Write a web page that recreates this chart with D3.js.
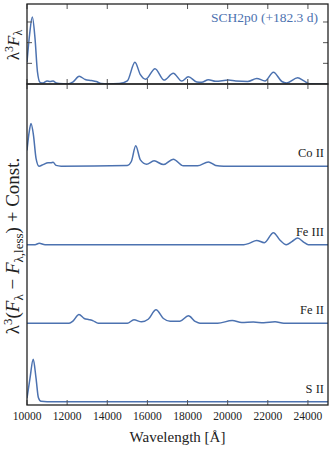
<!DOCTYPE html>
<html lang="en">
<head>
<meta charset="UTF-8"/>
<title>SCH2p0 spectrum decomposition</title>
<script src="https://d3js.org/d3.v7.min.js"></script>
<style>
	body { margin: 0; background: #fff; }
</style>
</head>
<body>
<script>
	// ***Data***
	var xTicks = [10000, 12000, 14000, 16000, 18000, 20000, 22000, 24000];
	var topTicks = [1, 2, 3];
	var title = "SCH2p0 (+182.3 d)";

	// total spectrum, lambda^3 F_lambda  [wavelength, value]
	var total = [
		[10000,1.06],[10130,2.4],[10265,3.24],[10400,2.2],[10520,0.6],[10650,0.08],[10800,0.05],
		[11000,0.15],[11150,0.12],[11300,0.15],[11450,0.05],[11600,0.02],[12000,0.0],[12300,0.1],
		[12600,0.37],[12900,0.22],[13200,0.17],[13450,0.12],[13700,0.02],[14000,0],[14600,0.02],
		[15000,0.15],[15380,1.05],[15650,0.45],[15915,0.23],[16380,0.74],[16830,0.19],[17290,0.52],
		[17710,0.14],[18040,0.35],[18460,0.1],[18700,0.08],[19040,0.21],[19400,0.13],[20050,0.19],
		[20400,0.14],[21000,0.12],[21450,0.27],[21860,0.15],[22280,0.57],[22700,0.12],[22940,0.05],
		[23490,0.3],[23800,0.15],[24100,0.01],[25000,0]
	];

	// species contributions (relative units)
	var species = ["Co II", "Fe III", "Fe II", "S II"];
	var offsets = [3, 2, 1, 0];
	var coII = [
		[10000,0.2],[10100,0.42],[10200,0.544],[10320,0.4],[10450,0.1],[10600,0.0],[10800,0.02],
		[11050,0.045],[11200,0.045],[11300,0.05],[11450,0.01],[11700,0],[15000,0.01],[15200,0.06],
		[15420,0.26],[15650,0.08],[15960,0.025],[16330,0.068],[16800,0.02],[17290,0.09],[17790,0.005],
		[18500,0.005],[19040,0.055],[19400,0.01],[19800,0],[25000,0]
	];
	var feIII = [
		[10000,0],[10400,0],[10610,0.017],[10900,0],[20800,0],[21100,0.02],[21440,0.055],[21830,0.025],
		[22280,0.153],[22600,0.06],[22920,0],[23200,0.04],[23490,0.084],[23800,0.03],[24020,0],[25000,0]
	];
	var feII = [
		[10000,0],[12100,0],[12300,0.03],[12590,0.111],[12850,0.06],[13100,0.045],[13300,0.03],[13550,0],
		[15000,0],[15330,0.043],[15710,0.017],[16040,0.05],[16430,0.171],[16800,0.06],[17130,0.025],
		[17620,0.025],[18040,0.094],[18400,0.02],[18620,0],[19500,0],[20230,0.034],[20700,0.01],
		[21280,0.015],[21800,0.005],[22360,0.017],[22800,0],[25000,0]
	];
	var sII = [
		[10000,0.045],[10150,0.3],[10310,0.54],[10450,0.3],[10570,0.05],[10700,0.005],[11000,0],[25000,0]
	];
	var seriesList = [coII, feIII, feII, sII];
	// ***Data***

	var w = 331, h = 450;
	var left = 27, right = 328;
	var topY0 = 4, split = 84, botY1 = 405;
	var blue = "#4C72B0";
	var tickLen = 5;
	var serif = "'Liberation Serif', 'DejaVu Serif', serif";

	var xScale = d3.scaleLinear().domain([10000, 25000]).range([left, right]);
	var yTop = d3.scaleLinear().domain([0, 3.87]).range([split, topY0]);
	var yBot = d3.scaleLinear().domain([-0.042, 4.047]).range([botY1, split]);

	var svg = d3.select("body").append("svg")
		.attr("width", w).attr("height", h)
		.attr("font-family", serif);

	// clip paths
	svg.append("clipPath").attr("id", "clipTop").append("rect")
		.attr("x", left).attr("y", topY0).attr("width", right - left).attr("height", split - topY0);
	svg.append("clipPath").attr("id", "clipBot").append("rect")
		.attr("x", left).attr("y", split).attr("width", right - left).attr("height", botY1 - split);

	// top panel line
	var lineTop = d3.line()
		.x(function(d) { return xScale(d[0]); })
		.y(function(d) { return yTop(d[1]); })
		.curve(d3.curveMonotoneX);

	svg.append("path")
		.datum(total)
		.attr("clip-path", "url(#clipTop)")
		.attr("d", lineTop)
		.attr("fill", "none")
		.attr("stroke", blue)
		.attr("stroke-width", 1.5);

	// bottom panel lines
	seriesList.forEach(function(s, i) {
		var off = offsets[i];
		var line = d3.line()
			.x(function(d) { return xScale(d[0]); })
			.y(function(d) { return yBot(d[1] + off); })
			.curve(d3.curveMonotoneX);
		svg.append("path")
			.datum(s)
			.attr("clip-path", "url(#clipBot)")
			.attr("d", line)
			.attr("fill", "none")
			.attr("stroke", blue)
			.attr("stroke-width", 1.5);
		svg.append("text")
			.attr("x", right - 4)
			.attr("y", yBot(off) - 9)
			.attr("text-anchor", "end")
			.attr("fill", "#222")
			.attr("font-size", 12.5)
			.text(species[i]);
	});

	// ticks
	var tickCol = "#555";
	function xTickMarks(y, dir) {
		svg.append("g").selectAll("line")
			.data(xTicks).enter().append("line")
			.attr("x1", function(d) { return xScale(d); })
			.attr("x2", function(d) { return xScale(d); })
			.attr("y1", y)
			.attr("y2", y + dir * tickLen)
			.attr("stroke", tickCol)
			.attr("stroke-width", 1);
	}
	xTickMarks(topY0, 1);
	xTickMarks(split, -1);
	xTickMarks(split, 1);
	xTickMarks(botY1, -1);

	svg.append("g").selectAll("line")
		.data(topTicks).enter().append("line")
		.attr("x1", left).attr("x2", left + tickLen)
		.attr("y1", function(d) { return yTop(d); })
		.attr("y2", function(d) { return yTop(d); })
		.attr("stroke", tickCol);
	svg.append("g").selectAll("line")
		.data(topTicks).enter().append("line")
		.attr("x1", right).attr("x2", right - tickLen)
		.attr("y1", function(d) { return yTop(d); })
		.attr("y2", function(d) { return yTop(d); })
		.attr("stroke", tickCol);

	// frames
	svg.append("rect")
		.attr("x", left).attr("y", topY0)
		.attr("width", right - left).attr("height", split - topY0)
		.attr("fill", "none").attr("stroke", "#222").attr("stroke-width", 1.3);
	svg.append("rect")
		.attr("x", left).attr("y", split)
		.attr("width", right - left).attr("height", botY1 - split)
		.attr("fill", "none").attr("stroke", "#222").attr("stroke-width", 1.3);

	// x tick labels
	svg.append("g").selectAll("text")
		.data(xTicks).enter().append("text")
		.attr("x", function(d) { return xScale(d); })
		.attr("y", 420)
		.attr("text-anchor", "middle")
		.attr("fill", "#222")
		.attr("font-size", 11.5)
		.text(function(d) { return d; });

	svg.append("text")
		.attr("x", (left + right) / 2)
		.attr("y", 442)
		.attr("text-anchor", "middle")
		.attr("fill", "#222")
		.attr("font-size", 15)
		.text("Wavelength [Å]");

	// title
	svg.append("text")
		.attr("x", 318)
		.attr("y", 22)
		.attr("text-anchor", "end")
		.attr("fill", blue)
		.attr("font-size", 13.5)
		.text(title);

	// y labels
	var yl1 = svg.append("text")
		.attr("transform", "translate(19," + 45 + ") rotate(-90)")
		.attr("text-anchor", "middle")
		.attr("fill", "#222")
		.attr("font-size", 17);
	yl1.append("tspan").text("λ");
	yl1.append("tspan").attr("dy", -6).attr("font-size", 12).text("3");
	yl1.append("tspan").attr("dy", 6).attr("font-style", "italic").text("F");
	yl1.append("tspan").attr("dy", 3).attr("font-size", 12).text("λ");

	var yl2 = svg.append("text")
		.attr("transform", "translate(19," + 246 + ") rotate(-90)")
		.attr("text-anchor", "middle")
		.attr("fill", "#222")
		.attr("font-size", 19);
	yl2.append("tspan").text("λ");
	yl2.append("tspan").attr("dy", -7).attr("font-size", 13).text("3");
	yl2.append("tspan").attr("dy", 7).text("(");
	yl2.append("tspan").attr("font-style", "italic").text("F");
	yl2.append("tspan").attr("dy", 4).attr("font-size", 13).text("λ");
	yl2.append("tspan").attr("dy", -4).text(" − ");
	yl2.append("tspan").attr("font-style", "italic").text("F");
	yl2.append("tspan").attr("dy", 4).attr("font-size", 13).text("λ,less");
	yl2.append("tspan").attr("dy", -4).text(") + Const.");
</script>
</body>
</html>
